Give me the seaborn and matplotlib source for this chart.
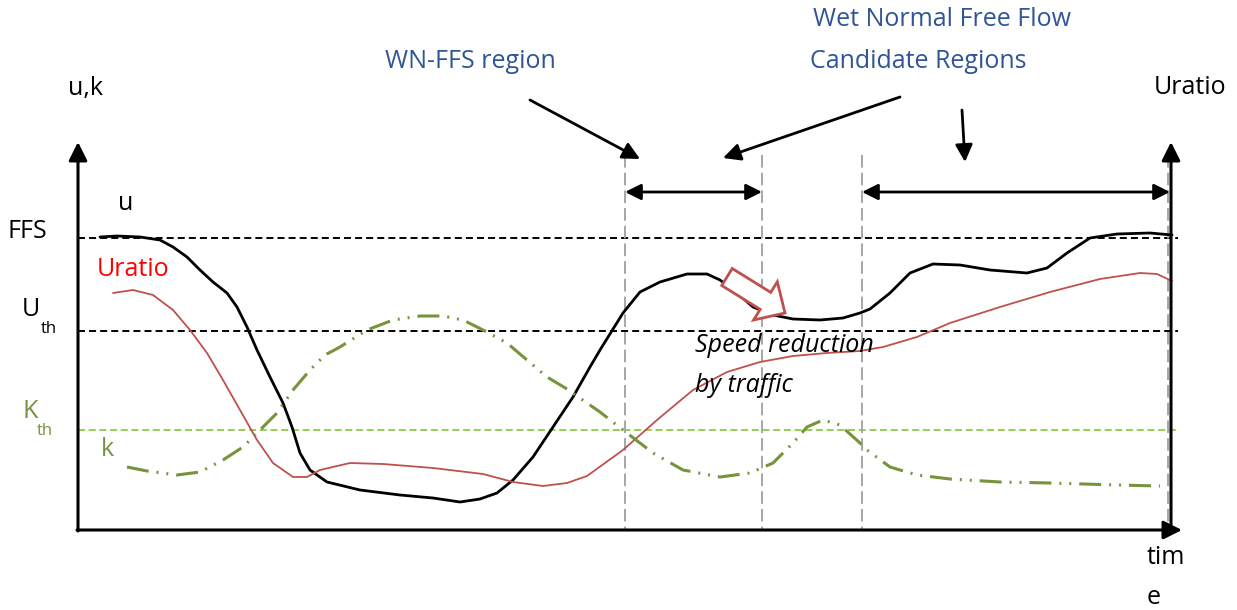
import matplotlib
matplotlib.use("Agg")
import matplotlib.pyplot as plt
import seaborn as sns
from matplotlib.patches import FancyArrow

# schematic, in pixel units (y grows downward)
u_x = [100, 117, 140, 160, 173, 187, 200, 213, 227, 237, 247, 257, 270, 283, 292, 300, 310, 327, 360, 400,
       433, 460, 480, 497, 513, 533, 553, 573, 590, 600, 623, 640, 660, 687, 707, 720, 737, 753, 773, 793,
       820, 843, 860, 870, 890, 910, 933, 960, 990, 1027, 1047, 1067, 1090, 1117, 1150, 1172]
u_y = [237, 236, 237, 240, 247, 257, 270, 282, 293, 307, 327, 350, 377, 403, 427, 453, 470, 482, 490, 495,
       498, 502, 499, 493, 480, 457, 427, 397, 367, 350, 313, 292, 282, 274, 274, 280, 293, 307, 315, 319,
       320, 318, 313, 309, 293, 273, 264, 265, 270, 273, 268, 253, 238, 234, 233, 235]

ur_x = [113, 133, 153, 173, 190, 207, 223, 240, 257, 273, 293, 307, 320, 350, 383, 433, 483, 513, 543, 567,
        587, 623, 657, 693, 727, 760, 793, 827, 860, 883, 917, 950, 1000, 1050, 1100, 1140, 1157, 1172]
ur_y = [293, 290, 295, 310, 330, 353, 380, 410, 440, 463, 477, 477, 470, 463, 464, 468, 474, 482, 486, 483,
        476, 450, 420, 390, 372, 362, 356, 353, 351, 347, 337, 323, 307, 292, 279, 273, 274, 281]

k_x = [127, 147, 177, 200, 223, 243, 260, 277, 293, 310, 325, 340, 367, 393, 420, 443, 463, 487, 507, 527,
       547, 567, 587, 600, 623, 653, 683, 720, 750, 773, 793, 807, 823, 840, 860, 867, 890, 917, 950, 1000,
       1050, 1117, 1160]
k_y = [467, 471, 475, 472, 460, 447, 430, 413, 390, 370, 355, 347, 330, 320, 316, 316, 320, 332, 343, 360,
       377, 389, 403, 412, 430, 453, 470, 477, 473, 463, 443, 427, 420, 425, 443, 450, 467, 475, 479, 482,
       483, 485, 486]

h_levels = [238, 331, 430]          # FFS, U_th, K_th
region_x = [625, 762, 862, 1168]    # gray region boundaries

blue = "#2F5597"
green = "#77933C"

sns.set_style("white")
plt.rcParams['font.family'] = ['Open Sans', 'DejaVu Sans']
plt.rcParams['text.color'] = 'black'

fig = plt.figure(figsize=(12.37, 6.10), dpi=100)
ax = fig.add_axes([0, 0, 1, 1])
ax.set_xlim(0, 1237)
ax.set_ylim(610, 0)
ax.axis('off')

# threshold lines
ax.plot([78, 1178], [h_levels[0]] * 2, color='black', ls=(0, (3.6, 2.1)), lw=1.4)
ax.plot([78, 1178], [h_levels[1]] * 2, color='black', ls=(0, (3.6, 2.1)), lw=1.4)
ax.plot([78, 1178], [h_levels[2]] * 2, color='#92D050', ls=(0, (3.6, 1.9)), lw=1.4)

for xv in region_x:
    ax.plot([xv, xv], [155, 530], color='#A6A6A6', ls=(0, (6.5, 2.6)), lw=1.4)

# curves
sns.lineplot(x=u_x, y=u_y, sort=False, color='black', lw=2.0, ax=ax)
sns.lineplot(x=ur_x, y=ur_y, sort=False, color='#C0504D', lw=1.3, ax=ax)
sns.lineplot(x=k_x, y=k_y, sort=False, color=green, lw=2.2, ax=ax)
ax.lines[-1].set_linestyle((0, (7.2, 2.6, 0.65, 2.6, 0.65, 2.6)))
for ln in ax.lines[-3:]:
    ln.set_solid_joinstyle('round')

# axes with arrow heads
head = dict(arrowstyle='-|>', color='black', lw=2.2, mutation_scale=28, shrinkA=0, shrinkB=0)
ax.annotate('', xy=(78, 142), xytext=(78, 531), arrowprops=head)
ax.annotate('', xy=(1182, 530), xytext=(77, 530), arrowprops=head)
ax.annotate('', xy=(1171, 142), xytext=(1171, 531), arrowprops=head)

# region double arrows
dbl = dict(arrowstyle='<|-|>', color='black', lw=2, mutation_scale=24, shrinkA=0, shrinkB=0)
ax.annotate('', xy=(625, 192), xytext=(762, 192), arrowprops=dbl)
ax.annotate('', xy=(862, 192), xytext=(1170, 192), arrowprops=dbl)

# pointer arrows
ptr = dict(arrowstyle='-|>', color='black', lw=2, mutation_scale=26, shrinkA=0, shrinkB=0)
ax.annotate('', xy=(640, 159), xytext=(530, 100), arrowprops=ptr)
ax.annotate('', xy=(723, 158), xytext=(900, 97), arrowprops=ptr)
ax.annotate('', xy=(965, 162), xytext=(962, 110), arrowprops=ptr)

# hollow red block arrow
ax.add_patch(FancyArrow(727, 277, 58, 36, width=20, head_width=45, head_length=23,
                        length_includes_head=True, fc='white', ec='#C0504D', lw=2.0, zorder=5))

fs = 18
ax.text(470, 62, 'WN-FFS region', color=blue, fontsize=fs, ha='center', va='center')
ax.text(942, 20, 'Wet Normal Free Flow', color=blue, fontsize=fs, ha='center', va='center')
ax.text(918, 62, 'Candidate Regions', color=blue, fontsize=fs, ha='center', va='center')
ax.text(85, 88, 'u,k', fontsize=fs, ha='center', va='center')
ax.text(1190, 88, 'Uratio', fontsize=fs, ha='center', va='center')
ax.text(27, 232, 'FFS', fontsize=fs, ha='center', va='center')
ax.text(31, 309, 'U', fontsize=fs, ha='center', va='center')
ax.text(49, 329, 'th', fontsize=12, ha='center', va='center')
ax.text(30, 411, 'K', fontsize=fs, color=green, ha='center', va='center')
ax.text(45, 431, 'th', fontsize=12, color=green, ha='center', va='center')
ax.text(126, 204, 'u', fontsize=fs, ha='center', va='center')
ax.text(133, 270, 'Uratio', fontsize=fs, color='red', ha='center', va='center')
ax.text(107, 450, 'k', fontsize=fs, color=green, ha='center', va='center')
ax.text(695, 346, 'Speed reduction', fontsize=fs, style='italic', ha='left', va='center')
ax.text(695, 386, 'by traffic', fontsize=fs, style='italic', ha='left', va='center')
ax.text(1147, 557, 'tim', fontsize=fs, ha='left', va='center')
ax.text(1147, 597, 'e', fontsize=fs, ha='left', va='center')

fig.savefig('out.png', dpi=100)
